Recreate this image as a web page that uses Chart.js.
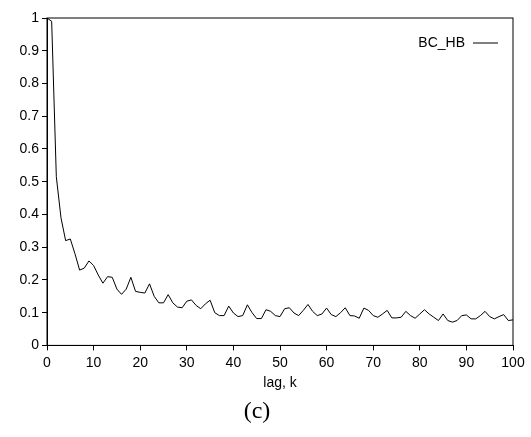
<!DOCTYPE html>
<html>
<head>
<meta charset="utf-8">
<script src="https://cdn.jsdelivr.net/npm/chart.js@4.4.0/dist/chart.umd.min.js"></script>
<style>
  html, body { margin: 0; padding: 0; background: #fff; }
  #wrap { position: relative; width: 531px; height: 437px; }
  #caption { position: absolute; left: 0; width: 514px; top: 397px; text-align: center;
             font-family: "Liberation Serif", "DejaVu Serif", serif; font-size: 24px; color: #000; }
</style>
</head>
<body>
<div id="wrap">
  <canvas id="acf" width="531" height="437"></canvas>
  <div id="caption">(c)</div>
</div>
<script>
// autocorrelation of BC_HB by lag k
const lags = [];
for (let k = 0; k <= 100; k++) lags.push(k);
const bcHb = [
  1.0, 0.99, 0.515, 0.39, 0.32, 0.325, 0.28, 0.23, 0.236, 0.258,
  0.244, 0.215, 0.19, 0.21, 0.208, 0.172, 0.156, 0.172, 0.208, 0.165,
  0.162, 0.16, 0.188, 0.15, 0.13, 0.13, 0.155, 0.13, 0.117, 0.115,
  0.135, 0.139, 0.122, 0.112, 0.127, 0.138, 0.10, 0.091, 0.091, 0.12,
  0.099, 0.088, 0.091, 0.124, 0.10, 0.082, 0.082, 0.109, 0.104, 0.091,
  0.088, 0.112, 0.115, 0.099, 0.091, 0.107, 0.125, 0.104, 0.091, 0.096,
  0.114, 0.094, 0.088, 0.10, 0.115, 0.091, 0.09, 0.083, 0.114, 0.107,
  0.091, 0.086, 0.096, 0.107, 0.084, 0.084, 0.086, 0.104, 0.091, 0.083,
  0.096, 0.109, 0.096, 0.086, 0.076, 0.096, 0.076, 0.071, 0.076, 0.091,
  0.093, 0.081, 0.081, 0.091, 0.104, 0.088, 0.081, 0.088, 0.094, 0.076,
  0.078
];
const seriesName = 'BC_HB';
const xTicks = [0, 10, 20, 30, 40, 50, 60, 70, 80, 90, 100];
const yTicks = [0, 0.1, 0.2, 0.3, 0.4, 0.5, 0.6, 0.7, 0.8, 0.9, 1];

const FONT = { family: '"Liberation Sans", Arial, sans-serif', size: 14 };

// box around the plot + the little legend in the top right corner
const framePlugin = {
  id: 'frame',
  afterDraw(chart) {
    const { ctx, chartArea: a } = chart;
    ctx.save();
    ctx.strokeStyle = '#000';
    ctx.lineWidth = 1;
    ctx.strokeRect(a.left, a.top, a.right - a.left, a.bottom - a.top);

    ctx.font = '14px "Liberation Sans", Arial, sans-serif';
    ctx.fillStyle = '#000';
    ctx.textAlign = 'right';
    ctx.textBaseline = 'middle';
    const ly = a.top + 25;
    ctx.fillText(seriesName, a.right - 48, ly);
    ctx.beginPath();
    ctx.moveTo(a.right - 40, ly);
    ctx.lineTo(a.right - 15, ly);
    ctx.stroke();
    ctx.restore();
  }
};

new Chart(document.getElementById('acf'), {
  type: 'line',
  data: {
    labels: lags,
    datasets: [{
      label: seriesName,
      data: lags.map((k, i) => ({ x: k, y: bcHb[i] })),
      borderColor: '#000',
      borderWidth: 1,
      pointRadius: 0,
      tension: 0,
      fill: false
    }]
  },
  options: {
    responsive: false,
    animation: false,
    layout: { padding: { top: 18, right: 18, left: 0, bottom: 45 } },
    plugins: { legend: { display: false }, tooltip: { enabled: false } },
    scales: {
      x: {
        type: 'linear', min: 0, max: 100,
        afterBuildTicks: s => { s.ticks = xTicks.map(v => ({ value: v })); },
        ticks: { color: '#000', font: FONT, padding: 4, maxRotation: 0 },
        grid: { drawOnChartArea: false, drawTicks: true, tickLength: 5, color: '#000' },
        border: { color: '#000' },
        title: { display: true, text: 'lag, k', color: '#000', font: FONT, padding: { top: 0, bottom: 0 } }
      },
      y: {
        min: 0, max: 1,
        afterBuildTicks: s => { s.ticks = yTicks.map(v => ({ value: v })); },
        afterFit: s => { s.width = 47; },
        ticks: { color: '#000', font: FONT, padding: 3, callback: v => String(+v.toFixed(1)) },
        grid: { drawOnChartArea: false, drawTicks: true, tickLength: 5, color: '#000' },
        border: { color: '#000' }
      }
    }
  },
  plugins: [framePlugin]
});
</script>
</body>
</html>
